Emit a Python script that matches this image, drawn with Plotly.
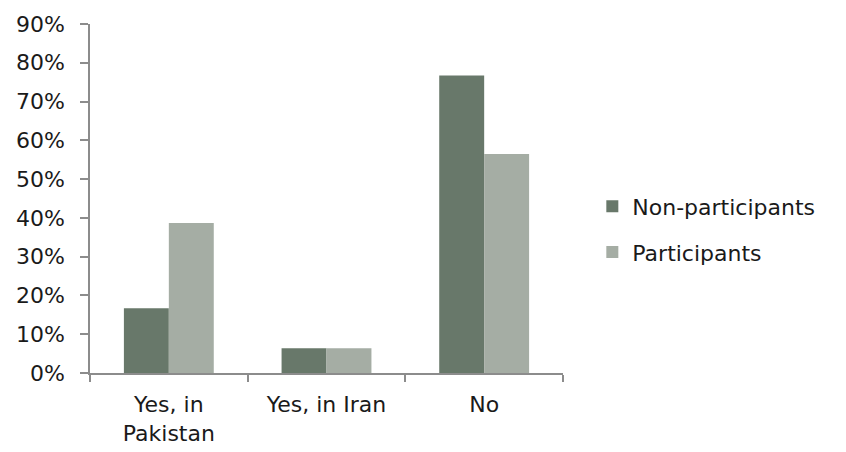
import plotly.graph_objects as go

categories = ["Yes, in<br>Pakistan", "Yes, in Iran", "No"]
non_participants = [0.167, 0.064, 0.767]
participants = [0.387, 0.064, 0.565]
y_ticks = [0, 0.1, 0.2, 0.3, 0.4, 0.5, 0.6, 0.7, 0.8, 0.9]
y_tick_labels = ["0%", "10%", "20%", "30%", "40%", "50%", "60%", "70%", "80%", "90%"]

DARK = "#68786A"
LIGHT = "#A5ADA4"
AXIS = "#8C8C8C"
FONT = "DejaVu Sans"

fig = go.Figure()
fig.add_trace(go.Bar(name="Non-participants", x=categories, y=non_participants,
                     marker=dict(color=DARK, line=dict(width=0)),
                     legendgroup="a"))
fig.add_trace(go.Bar(name="Participants", x=categories, y=participants,
                     marker=dict(color=LIGHT, line=dict(width=0)),
                     legendgroup="b"))

fig.update_layout(
    width=846, height=452,
    margin=dict(l=90, r=283, t=24, b=79),
    paper_bgcolor="white", plot_bgcolor="white",
    barmode="group", bargap=0.43, bargroupgap=0,
    font=dict(family=FONT, size=22, color="#1a1a1a"),
    legend=dict(x=1.062, y=0.411, xanchor="left", yanchor="middle",
                traceorder="grouped", tracegroupgap=14,
                font=dict(size=22), itemwidth=30),
    showlegend=True,
)
fig.update_xaxes(showline=True, linecolor=AXIS, linewidth=1.5,
                 ticks="outside", tickson="boundaries", ticklen=7,
                 tickcolor=AXIS, tickwidth=1.5, showgrid=False,
                 ticklabelstandoff=11, automargin=False)
fig.update_yaxes(range=[0, 0.9], tickvals=y_ticks, ticktext=y_tick_labels,
                 showline=True, linecolor=AXIS, linewidth=1.5,
                 ticks="outside", ticklen=8, tickcolor=AXIS, tickwidth=1.5,
                 showgrid=False, zeroline=False, ticklabelstandoff=11,
                 automargin=False)

fig.write_html("out.html")
